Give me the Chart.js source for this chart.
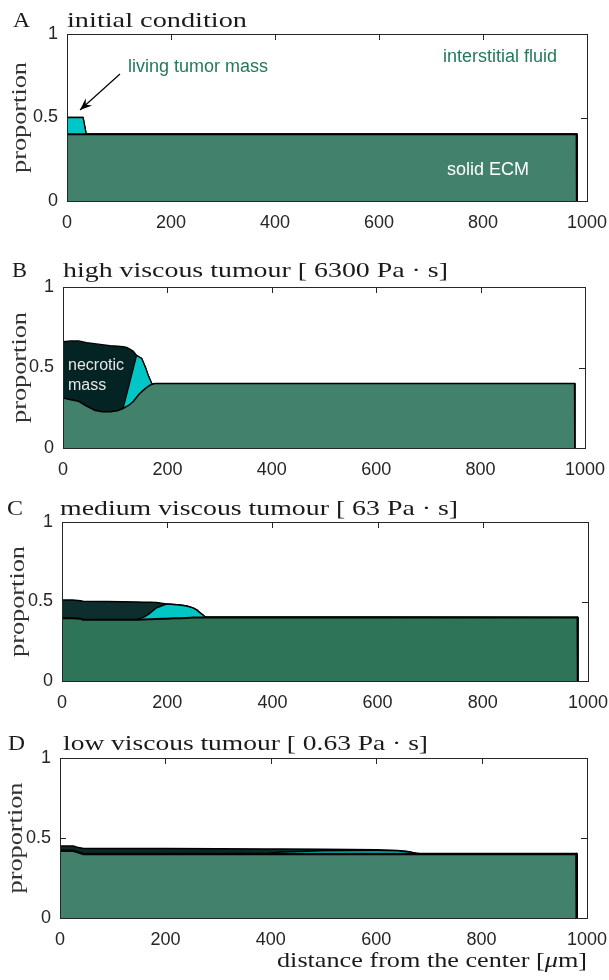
<!DOCTYPE html>
<html><head><meta charset="utf-8">
<script src="https://cdn.jsdelivr.net/npm/chart.js@4.4.1/dist/chart.umd.min.js"></script>
<style>
html,body{margin:0;padding:0;background:#fff;width:609px;height:980px;overflow:hidden;}
canvas{position:absolute;left:0;}
</style></head><body>
<canvas id="cA"></canvas><canvas id="cB"></canvas><canvas id="cC"></canvas><canvas id="cD"></canvas>
<script>
// ---- tick labels ----
const xTicks = [0, 200, 400, 600, 800, 1000];
const yTicks = [0, 0.5, 1];

// ---- A: initial condition ----
const xA        = [0,   31,  37,  980, 980.5];
const ecmA      = [0.4, 0.4, 0.4, 0.4, 0];
const livingA   = [0.1, 0.1, 0,   0,   0];
const necroticA = [0,   0,   0,   0,   0];

// ---- B: high viscous tumour ----
const xB        = [0, 15, 30, 45, 60, 75, 90, 105, 115, 122, 128, 135, 141, 146, 151, 158, 164, 170, 176, 980, 980.5];
const ecmB      = [0.31, 0.30, 0.29, 0.26, 0.235, 0.225, 0.225, 0.232, 0.245, 0.258, 0.27, 0.29, 0.315, 0.335, 0.35, 0.37, 0.385, 0.395, 0.4, 0.4, 0];
const livingB   = [0, 0, 0, 0, 0, 0, 0, 0, 0, 0.076, 0.14, 0.209, 0.26, 0.23, 0.205, 0.13, 0.06, 0.005, 0, 0, 0];
const necroticB = [0.35, 0.365, 0.375, 0.395, 0.413, 0.417, 0.411, 0.40, 0.385, 0.291, 0.205, 0.101, 0, 0, 0, 0, 0, 0, 0, 0, 0];

// ---- C: medium viscous tumour ----
const xC        = [0, 20, 35, 40, 85, 142, 155, 167, 180, 192, 199, 212, 224, 237, 249, 256, 262, 268, 272, 980, 980.5];
const ecmC      = [0.395, 0.395, 0.392, 0.385, 0.385, 0.386, 0.387, 0.388, 0.39, 0.391, 0.392, 0.394, 0.395, 0.397, 0.399, 0.4, 0.4, 0.4, 0.4, 0.4, 0];
const livingC   = [0, 0, 0, 0, 0, 0, 0.013, 0.038, 0.071, 0.085, 0.092, 0.087, 0.083, 0.075, 0.061, 0.047, 0.03, 0.015, 0.002, 0, 0];
const necroticC = [0.114, 0.114, 0.112, 0.117, 0.115, 0.111, 0.096, 0.069, 0.032, 0.012, 0, 0, 0, 0, 0, 0, 0, 0, 0, 0, 0];

// ---- D: low viscous tumour ----
const xD        = [0, 25, 35, 45, 100, 200, 300, 390, 420, 500, 600, 640, 660, 675, 685, 980, 980.5];
const ecmD      = [0.42, 0.42, 0.41, 0.40, 0.40, 0.40, 0.40, 0.40, 0.40, 0.40, 0.40, 0.40, 0.40, 0.40, 0.40, 0.40, 0];
const livingD   = [0, 0, 0, 0, 0, 0, 0, 0, 0.012, 0.02, 0.022, 0.02, 0.014, 0.005, 0, 0, 0];
const necroticD = [0.03, 0.03, 0.03, 0.035, 0.035, 0.034, 0.033, 0.032, 0.019, 0.01, 0.005, 0.002, 0.001, 0, 0, 0, 0];

const INK = '#262626';
const GREEN_TXT = '#237a5a';

function drawStretched(ctx, parts, x, y, targetW, align) {
  let w = 0;
  for (const p of parts) { ctx.font = p.font; w += ctx.measureText(p.t).width; }
  const sx = targetW / w;
  ctx.save();
  ctx.translate(x, y);
  ctx.scale(sx, 1);
  let cx = align === 'center' ? -w / 2 : 0;
  ctx.textAlign = 'left';
  for (const p of parts) { ctx.font = p.font; ctx.fillText(p.t, cx, 0); cx += ctx.measureText(p.t).width; }
  ctx.restore();
}

const deco = {
  id: 'deco',
  beforeDatasetsDraw(chart) {
    const {ctx, chartArea: a, scales: {x, y}} = chart;
    ctx.save();
    ctx.strokeStyle = INK; ctx.lineWidth = 1;
    ctx.beginPath();
    for (const v of xTicks) {
      const px = Math.round(x.getPixelForValue(v)) + 0.5;
      ctx.moveTo(px, a.bottom); ctx.lineTo(px, a.bottom - 6);
      ctx.moveTo(px, a.top); ctx.lineTo(px, a.top + 6);
    }
    for (const v of yTicks) {
      const py = Math.round(y.getPixelForValue(v)) + 0.5;
      ctx.moveTo(a.left, py); ctx.lineTo(a.left + 6, py);
      ctx.moveTo(a.right, py); ctx.lineTo(a.right - 6, py);
    }
    ctx.stroke();
    ctx.restore();
  },
  afterDatasetsDraw(chart, args, o) {
    const {ctx, chartArea: a} = chart;
    const off = o.top;
    ctx.save();
    ctx.strokeStyle = INK; ctx.lineWidth = 1;
    ctx.strokeRect(Math.round(a.left) + 0.5, Math.round(a.top) + 0.5, Math.round(a.right - a.left), Math.round(a.bottom - a.top));
    ctx.fillStyle = '#1a1a1a';
    ctx.textBaseline = 'alphabetic';
    drawStretched(ctx, [{t: o.letter, font: '22px "Liberation Serif"'}], o.letterX, o.titleY - off, o.letterW, 'left');
    drawStretched(ctx, [{t: o.title, font: '22px "Liberation Serif"'}], o.titleX, o.titleY - off, o.titleW, 'left');
    ctx.save();
    ctx.translate(o.ylabX, (a.top + a.bottom) / 2);
    ctx.rotate(-Math.PI / 2);
    ctx.textBaseline = 'middle';
    ctx.fillStyle = '#333';
    drawStretched(ctx, [{t: 'proportion', font: '21px "Liberation Serif"'}], 0, 0, 111, 'center');
    ctx.restore();
    for (const n of (o.notes || [])) {
      ctx.font = n.font; ctx.fillStyle = n.color; ctx.textAlign = 'left'; ctx.textBaseline = 'middle';
      ctx.fillText(n.t, n.x, n.y - off);
    }
    if (o.arrow) {
      const [x1, y1, x2, y2] = o.arrow.map((v, i) => i % 2 ? v - off : v);
      ctx.strokeStyle = '#000'; ctx.fillStyle = '#000'; ctx.lineWidth = 1.2;
      ctx.beginPath(); ctx.moveTo(x1, y1); ctx.lineTo(x2, y2); ctx.stroke();
      const ang = Math.atan2(y2 - y1, x2 - x1), L = 13, W = 0.38;
      ctx.beginPath();
      ctx.moveTo(x2, y2);
      ctx.lineTo(x2 - L * Math.cos(ang - W), y2 - L * Math.sin(ang - W));
      ctx.lineTo(x2 - L * 0.6 * Math.cos(ang), y2 - L * 0.6 * Math.sin(ang));
      ctx.lineTo(x2 - L * Math.cos(ang + W), y2 - L * Math.sin(ang + W));
      ctx.closePath(); ctx.fill();
    }
    if (o.xlabel) {
      ctx.fillStyle = '#1a1a1a'; ctx.textBaseline = 'alphabetic';
      drawStretched(ctx, [
        {t: 'distance from the center [', font: '22px "Liberation Serif"'},
        {t: 'μ', font: 'italic 22px "Liberation Serif"'},
        {t: 'm]', font: '22px "Liberation Serif"'}
      ], 277, 967 - off, 310, 'left');
    }
    ctx.restore();
  }
};

function zeroPad(s) { s.paddingLeft = 0; s.paddingRight = 0; s.paddingTop = 0; s.paddingBottom = 0; }

function makePanel(id, box, xs, ecm, liv, nec, colors, opts) {
  const cv = document.getElementById(id);
  cv.width = 609; cv.height = box.h;
  cv.style.top = box.top + 'px'; cv.style.width = '609px'; cv.style.height = box.h + 'px';
  const e = xs.map((x, i) => ({x, y: ecm[i]}));
  const l = xs.map((x, i) => ({x, y: ecm[i] + liv[i]}));
  const n = xs.map((x, i) => ({x, y: ecm[i] + liv[i] + nec[i]}));
  const base = {pointRadius: 0, borderColor: '#000', tension: 0, borderJoinStyle: 'round'};
  opts.top = box.top;
  new Chart(cv, {
    type: 'line',
    data: {datasets: [
      Object.assign({label: 'solid ECM', data: e, fill: 'origin', backgroundColor: colors.ecm, borderWidth: colors.ecmW}, base),
      Object.assign({label: 'living tumor mass', data: l, fill: '-1', backgroundColor: colors.liv, borderWidth: colors.w}, base),
      Object.assign({label: 'necrotic mass', data: n, fill: '-1', backgroundColor: colors.nec, borderWidth: colors.w}, base)
    ]},
    options: {
      responsive: false, animation: false, devicePixelRatio: 1,
      layout: {autoPadding: false, padding: {left: 0, right: 609 - box.R, top: box.T - box.top, bottom: 0}},
      plugins: {legend: {display: false}, tooltip: {enabled: false}, deco: opts},
      scales: {
        x: {type: 'linear', min: 0, max: 1000,
            afterBuildTicks: s => { s.ticks = xTicks.map(v => ({value: v})); },
            afterFit: s => { s.height = box.top + box.h - box.B; zeroPad(s); },
            grid: {display: false, drawTicks: false}, border: {display: false},
            ticks: {padding: 11, color: INK, font: {family: '"Liberation Sans"', size: 18}, maxRotation: 0, autoSkip: false, callback: v => String(v)}},
        y: {type: 'linear', min: 0, max: 1,
            afterBuildTicks: s => { s.ticks = yTicks.map(v => ({value: v})); },
            afterFit: s => { s.width = box.L; zeroPad(s); },
            grid: {display: false, drawTicks: false}, border: {display: false},
            ticks: {padding: 9, color: INK, font: {family: '"Liberation Sans"', size: 18}, callback: v => String(v), autoSkip: false}}
      }
    },
    plugins: [deco]
  });
}

const ECM1 = '#42816b', ECM2 = '#2d7459', CYAN = '#00c6c6';

makePanel('cA', {top: 0, h: 240, L: 67, R: 587, T: 34, B: 201}, xA, ecmA, livingA, necroticA,
  {ecm: ECM1, liv: CYAN, nec: '#042423', ecmW: 2, w: 1.3},
  {letter: 'A', letterX: 13, letterW: 17, title: 'initial condition', titleX: 67, titleW: 180, titleY: 27, ylabX: 20,
   notes: [
     {t: 'living tumor mass', x: 128, y: 67, font: '18px "Liberation Sans"', color: GREEN_TXT},
     {t: 'interstitial fluid', x: 443, y: 57, font: '18px "Liberation Sans"', color: GREEN_TXT},
     {t: 'solid ECM', x: 447, y: 170, font: '18px "Liberation Sans"', color: '#ffffff'}
   ],
   arrow: [120, 74, 80, 110]});

makePanel('cB', {top: 240, h: 240, L: 63, R: 585, T: 287, B: 448}, xB, ecmB, livingB, necroticB,
  {ecm: ECM1, liv: CYAN, nec: '#042423', ecmW: 1.5, w: 1.3},
  {letter: 'B', letterX: 12, letterW: 15, title: 'high viscous tumour [ 6300 Pa · s]', titleX: 63, titleW: 385, titleY: 277, ylabX: 20,
   notes: [
     {t: 'necrotic', x: 68, y: 366, font: '16px "Liberation Sans"', color: '#e6e6e6'},
     {t: 'mass', x: 68, y: 386, font: '16px "Liberation Sans"', color: '#e6e6e6'}
   ]});

makePanel('cC', {top: 480, h: 230, L: 62, R: 588, T: 522, B: 681}, xC, ecmC, livingC, necroticC,
  {ecm: ECM2, liv: CYAN, nec: '#0d2e2c', ecmW: 2, w: 1.5},
  {letter: 'C', letterX: 7, letterW: 16, title: 'medium viscous tumour [ 63 Pa · s]', titleX: 60, titleW: 398, titleY: 515, ylabX: 18});

makePanel('cD', {top: 710, h: 270, L: 60, R: 587, T: 758, B: 918}, xD, ecmD, livingD, necroticD,
  {ecm: ECM1, liv: CYAN, nec: '#0a2a28', ecmW: 2.5, w: 1.5},
  {letter: 'D', letterX: 8, letterW: 17, title: 'low viscous tumour [ 0.63 Pa · s]', titleX: 63, titleW: 365, titleY: 750, ylabX: 16, xlabel: true});
</script>
</body></html>
